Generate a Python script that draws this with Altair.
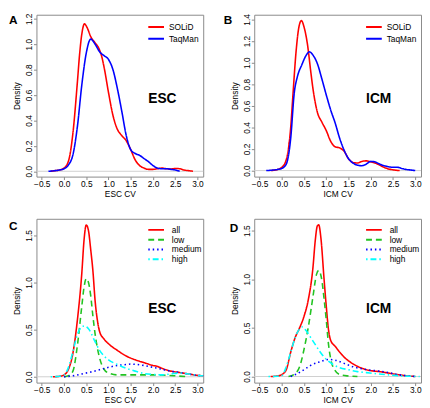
import altair as alt
import pandas as pd

FONT = "Liberation Sans"

# ---------------- data ----------------
X_TICKS = [-0.5, 0.0, 0.5, 1.0, 1.5, 2.0, 2.5, 3.0]
X_DOMAIN = [-0.62, 3.13]

# Panel A: ESC, SOLiD vs TaqMan
A_SOLID_X = [-0.3, -0.2, -0.1, 0.0, 0.1, 0.2, 0.3, 0.35, 0.4, 0.46, 0.52, 0.6, 0.7, 0.78, 0.85, 0.9, 1.0, 1.1, 1.2, 1.3, 1.4, 1.5, 1.6, 1.7, 1.8, 1.9, 2.0, 2.1, 2.2, 2.3, 2.4, 2.5, 2.6, 2.7, 2.8, 2.9]
A_SOLID_Y = [0.0, 0.005, 0.01, 0.025, 0.08, 0.3, 0.7, 0.92, 1.08, 1.16, 1.13, 1.06, 1.01, 0.97, 0.9, 0.82, 0.62, 0.44, 0.33, 0.28, 0.24, 0.17, 0.09, 0.045, 0.025, 0.015, 0.015, 0.02, 0.025, 0.02, 0.018, 0.022, 0.02, 0.01, 0.005, 0.0]
A_TAQ_X = [-0.35, -0.2, -0.1, 0.0, 0.1, 0.2, 0.3, 0.4, 0.5, 0.6, 0.7, 0.8, 0.9, 1.0, 1.1, 1.2, 1.3, 1.4, 1.5, 1.6, 1.7, 1.8, 1.9, 2.0, 2.1, 2.2, 2.3, 2.4, 2.5, 2.6]
A_TAQ_Y = [0.0, 0.005, 0.01, 0.02, 0.05, 0.13, 0.35, 0.68, 0.93, 1.04, 1.0, 0.94, 0.91, 0.88, 0.8, 0.65, 0.47, 0.28, 0.17, 0.14, 0.125, 0.1, 0.075, 0.045, 0.025, 0.02, 0.02, 0.015, 0.01, 0.0]

# Panel B: ICM, SOLiD vs TaqMan
B_SOLID_X = [-0.25, -0.1, 0.0, 0.1, 0.2, 0.25, 0.32, 0.38, 0.44, 0.5, 0.58, 0.65, 0.7, 0.8, 0.9, 1.0, 1.1, 1.2, 1.3, 1.4, 1.5, 1.6, 1.7, 1.8, 1.9, 2.0, 2.1, 2.2, 2.3, 2.4, 2.5, 2.65]
B_SOLID_Y = [0.0, 0.01, 0.03, 0.1, 0.4, 0.7, 1.1, 1.32, 1.39, 1.33, 1.16, 0.92, 0.76, 0.54, 0.45, 0.37, 0.27, 0.22, 0.21, 0.18, 0.11, 0.075, 0.07, 0.085, 0.09, 0.08, 0.07, 0.05, 0.03, 0.015, 0.007, 0.0]
B_TAQ_X = [-0.35, -0.2, -0.1, 0.0, 0.1, 0.2, 0.28, 0.35, 0.45, 0.55, 0.62, 0.7, 0.8, 0.9, 1.0, 1.1, 1.2, 1.3, 1.4, 1.5, 1.6, 1.7, 1.8, 1.9, 2.0, 2.1, 2.2, 2.3, 2.4, 2.5, 2.6, 2.7, 2.8, 2.9, 3.0]
B_TAQ_Y = [0.0, 0.005, 0.01, 0.02, 0.06, 0.3, 0.72, 0.87, 0.98, 1.07, 1.1, 1.07, 0.99, 0.85, 0.7, 0.56, 0.44, 0.3, 0.19, 0.11, 0.07, 0.05, 0.045, 0.06, 0.085, 0.08, 0.06, 0.045, 0.035, 0.03, 0.03, 0.02, 0.01, 0.005, 0.0]

# Panel C: ESC by expression level
C_ALL_X = [-0.25, -0.1, 0.0, 0.1, 0.2, 0.3, 0.4, 0.45, 0.5, 0.55, 0.6, 0.65, 0.7, 0.75, 0.8, 0.9, 1.0, 1.2, 1.4, 1.6, 1.8, 2.0, 2.1, 2.2, 2.4, 2.6, 2.8, 3.0, 3.15]
C_ALL_Y = [0.0, 0.005, 0.02, 0.08, 0.25, 0.6, 1.1, 1.45, 1.61, 1.55, 1.35, 1.12, 0.8, 0.6, 0.48, 0.4, 0.35, 0.28, 0.22, 0.18, 0.15, 0.12, 0.11, 0.09, 0.06, 0.045, 0.03, 0.015, 0.01]
C_LOW_X = [0.0, 0.1, 0.2, 0.3, 0.4, 0.45, 0.5, 0.55, 0.6, 0.65, 0.7, 0.8, 0.9, 1.0, 1.2, 1.5, 2.0, 2.5, 2.8]
C_LOW_Y = [0.0, 0.01, 0.06, 0.33, 0.75, 0.95, 1.04, 1.0, 0.86, 0.64, 0.45, 0.2, 0.08, 0.04, 0.02, 0.02, 0.02, 0.01, 0.0]
C_MED_X = [0.0, 0.2, 0.4, 0.6, 0.8, 1.0, 1.2, 1.4, 1.5, 1.6, 1.8, 2.0, 2.2, 2.4, 2.6, 2.8, 3.0, 3.15]
C_MED_Y = [0.0, 0.01, 0.03, 0.05, 0.075, 0.1, 0.12, 0.13, 0.135, 0.132, 0.12, 0.1, 0.08, 0.06, 0.045, 0.03, 0.015, 0.01]
C_HIGH_X = [-0.3, -0.1, 0.0, 0.1, 0.2, 0.3, 0.4, 0.46, 0.55, 0.7, 0.8, 0.9, 1.0, 1.2, 1.4, 1.6, 1.8, 2.0, 2.2, 2.4, 2.6, 2.8, 3.0, 3.15]
C_HIGH_Y = [0.0, 0.005, 0.02, 0.1, 0.27, 0.45, 0.53, 0.54, 0.51, 0.37, 0.28, 0.22, 0.18, 0.13, 0.09, 0.06, 0.035, 0.025, 0.02, 0.03, 0.04, 0.03, 0.015, 0.01]

# Panel D: ICM by expression level
D_ALL_X = [-0.25, -0.1, 0.0, 0.1, 0.2, 0.3, 0.4, 0.5, 0.6, 0.7, 0.75, 0.8, 0.83, 0.88, 0.95, 1.0, 1.05, 1.1, 1.2, 1.4, 1.6, 1.8, 2.0, 2.2, 2.4, 2.6, 2.8, 3.0]
D_ALL_Y = [0.0, 0.005, 0.02, 0.07, 0.25, 0.4, 0.5, 0.62, 0.8, 1.12, 1.39, 1.55, 1.56, 1.42, 1.0, 0.72, 0.48, 0.37, 0.31, 0.2, 0.13, 0.085, 0.06, 0.05, 0.035, 0.02, 0.008, 0.0]
D_LOW_X = [0.15, 0.3, 0.4, 0.5, 0.6, 0.7, 0.78, 0.83, 0.9, 0.95, 1.0, 1.05, 1.1, 1.2, 1.3, 1.5, 1.7]
D_LOW_Y = [0.0, 0.03, 0.1, 0.28, 0.52, 0.82, 1.05, 1.09, 0.99, 0.8, 0.58, 0.33, 0.18, 0.06, 0.02, 0.005, 0.0]
D_MED_X = [0.2, 0.35, 0.5, 0.65, 0.85, 1.05, 1.2, 1.4, 1.6, 1.8, 2.0, 2.2, 2.4, 2.6, 2.8, 3.0]
D_MED_Y = [0.0, 0.03, 0.07, 0.115, 0.15, 0.175, 0.168, 0.135, 0.1, 0.08, 0.065, 0.055, 0.04, 0.02, 0.008, 0.0]
D_HIGH_X = [-0.3, -0.1, 0.0, 0.1, 0.2, 0.3, 0.4, 0.46, 0.55, 0.65, 0.75, 0.85, 0.95, 1.1, 1.3, 1.5, 1.7, 1.9, 2.1, 2.4, 2.7, 3.1]
D_HIGH_Y = [0.0, 0.003, 0.01, 0.1, 0.25, 0.4, 0.49, 0.51, 0.47, 0.4, 0.33, 0.26, 0.2, 0.14, 0.09, 0.07, 0.05, 0.04, 0.03, 0.017, 0.006, 0.0]

TWO_NAMES = ["SOLiD", "TaqMan"]
TWO_COLORS = ["#ff0000", "#0000ff"]
FOUR_NAMES = ["all", "low", "medium", "high"]
FOUR_COLORS = ["#ff0000", "#22c322", "#0000ff", "#00ffff"]
FOUR_DASHES = [[1, 0], [6, 4], [1.5, 3], [1.5, 3, 6, 3]]


def frame(names, xs, ys):
    rows = []
    for n, xv, yv in zip(names, xs, ys):
        for a, b in zip(xv, yv):
            rows.append({"s": n, "x": a, "y": b})
    return pd.DataFrame(rows)


def panel(df, names, colors, dashes, yticks, ydom, xtitle, letter, word,
          height, letter_dx, letter_dy, word_y, leg_spacing, leg_offset, leg_y):
    xs = alt.Scale(domain=X_DOMAIN, nice=False, zero=False)
    ys = alt.Scale(domain=ydom, nice=False, zero=False)
    yaxis = alt.Axis(values=yticks, format=".1f", title="Density",
                     labelAngle=-90, labelAlign="center",
                     labelBaseline="alphabetic", labelPadding=2,
                     labelFlush=False, labelOverlap=False, titlePadding=3)
    xaxis = alt.Axis(values=X_TICKS, format=".1f", title=xtitle,
                     labelFlush=False, labelOverlap=False,
                     labelPadding=0.5, titlePadding=1)
    zero = alt.Chart(pd.DataFrame({"z": [0.0]})).mark_rule(
        color="#cfcfcf", strokeWidth=1).encode(y=alt.Y("z:Q", scale=ys, axis=yaxis, title="Density"))
    lines = alt.Chart(df).mark_line(strokeWidth=1.6, clip=True, interpolate="monotone").encode(
        x=alt.X("x:Q", scale=xs, axis=xaxis),
        y=alt.Y("y:Q", scale=ys, axis=yaxis),
        color=alt.Color("s:N", scale=alt.Scale(domain=names, range=colors),
                        legend=alt.Legend(title=None, orient="none", legendX=113, legendY=leg_y,
                                          symbolType="stroke", symbolSize=256,
                                          symbolStrokeWidth=2, labelFontSize=8.5,
                                          labelOffset=leg_offset, clipHeight=leg_spacing,
                                          rowPadding=0, padding=0, labelColor="#000",
                                          labelFont=FONT)),
        strokeDash=alt.StrokeDash("s:N", scale=alt.Scale(domain=names, range=dashes), legend=None),
    )
    letter_t = alt.Chart(pd.DataFrame({"t": [letter]})).mark_text(
        font=FONT, fontSize=12, fontWeight="bold", align="left", baseline="top", color="#000"
    ).encode(text="t:N", x=alt.value(letter_dx), y=alt.value(letter_dy))
    word_t = alt.Chart(pd.DataFrame({"t": [word]})).mark_text(
        font=FONT, fontSize=14, fontWeight="bold", align="left", baseline="alphabetic", color="#000"
    ).encode(text="t:N", x=alt.value(114), y=alt.value(word_y))
    return alt.layer(zero, lines, letter_t, word_t).properties(width=170, height=height)


dfA = frame(TWO_NAMES, [A_SOLID_X, A_TAQ_X], [A_SOLID_Y, A_TAQ_Y])
dfB = frame(TWO_NAMES, [B_SOLID_X, B_TAQ_X], [B_SOLID_Y, B_TAQ_Y])
dfC = frame(FOUR_NAMES, [C_ALL_X, C_LOW_X, C_MED_X, C_HIGH_X], [C_ALL_Y, C_LOW_Y, C_MED_Y, C_HIGH_Y])
dfD = frame(FOUR_NAMES, [D_ALL_X, D_LOW_X, D_MED_X, D_HIGH_X], [D_ALL_Y, D_LOW_Y, D_MED_Y, D_HIGH_Y])

two_dash = [[1, 0], [1, 0]]
pA = panel(dfA, TWO_NAMES, TWO_COLORS, two_dash, [0, 0.2, 0.4, 0.6, 0.8, 1.0, 1.2], [-0.042, 1.232],
           "ESC CV", "A", "ESC", 165, -28, 0, 90, 12, 4, 6.5)
pB = panel(dfB, TWO_NAMES, TWO_COLORS, two_dash, [0, 0.2, 0.4, 0.6, 0.8, 1.0, 1.2, 1.4], [-0.056, 1.444],
           "ICM CV", "B", "ICM", 165, -31, 0, 90, 12, 4, 6.5)
pC = panel(dfC, FOUR_NAMES, FOUR_COLORS, FOUR_DASHES, [0, 0.5, 1.0, 1.5], [-0.062, 1.676],
           "ESC CV", "C", "ESC", 167, -28, 2, 96, 10, 7, 6.3)
pD = panel(dfD, FOUR_NAMES, FOUR_COLORS, FOUR_DASHES, [0, 0.5, 1.0, 1.5], [-0.063, 1.622],
           "ICM CV", "D", "ICM", 167, -25, 4, 96, 10, 7, 6.3)

chart = alt.concat(pA, pB, pC, pD, columns=2, spacing={"row": 43, "column": 52}, bounds="flush").resolve_scale(
    x="independent", y="independent", color="independent", strokeDash="independent"
).resolve_legend(color="independent").properties(padding=0).configure(
    font=FONT
).configure_view(
    stroke="#8a8a8a", strokeWidth=1
).configure_axis(
    domain=False, grid=False, ticks=True, tickColor="#8a8a8a", tickSize=3, tickWidth=1,
    labelFont=FONT, labelFontSize=8.5, labelColor="#000",
    titleFont=FONT, titleFontSize=8.5, titleFontWeight="normal", titleColor="#000"
)

chart.save("out.html", embed_options={"renderer": "svg", "actions": False})
